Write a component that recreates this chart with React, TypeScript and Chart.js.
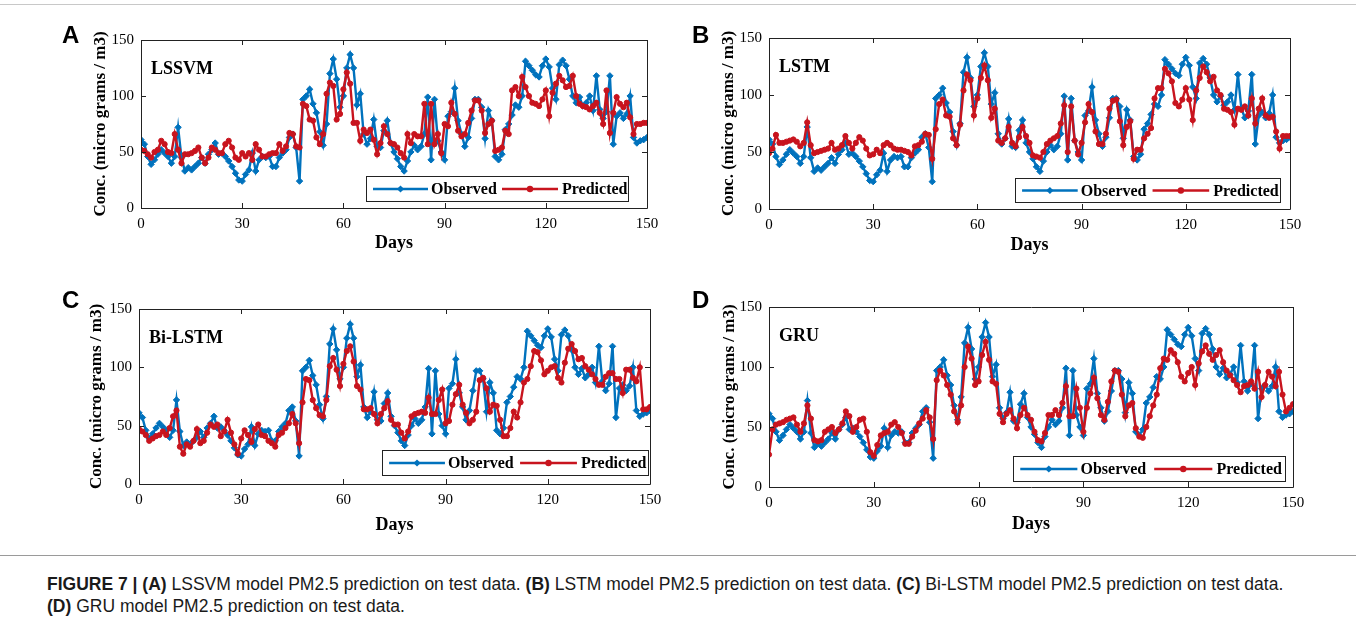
import React, { useEffect, useRef } from "react";
import { Chart, registerables } from "chart.js";

Chart.register(...registerables);

// ---------- data ----------
const xTicks = [0, 30, 60, 90, 120, 150];
const yTicks = [0, 50, 100, 150];

const observed = [
  61, 57, 46, 39, 43, 48, 52, 49, 46, 40,
  46, 72, 45, 33, 36, 34, 37, 40, 45, 40,
  48, 52, 58, 48, 49, 46, 42, 37, 31, 25,
  24, 30, 34, 49, 33, 43, 46, 45, 46, 37,
  37, 45, 49, 52, 63, 66, 54, 24, 97, 100,
  106, 93, 85, 68, 56, 75, 120, 133, 115, 90,
  100, 125, 137, 125, 92, 102, 66, 57, 62, 79,
  55, 54, 69, 78, 58, 50, 44, 37, 33, 42,
  50, 56, 52, 55, 66, 99, 43, 97, 60, 50,
  43, 82, 86, 107, 78, 66, 55, 63, 80, 97,
  97, 90, 62, 87, 78, 46, 43, 48, 70, 75,
  83, 92, 90, 100, 131, 127, 123, 119, 117, 127,
  133, 126, 107, 97, 128, 132, 127, 115, 100, 94,
  99, 91, 94, 100, 87, 118, 88, 80, 86, 118,
  57, 82, 85, 80, 84, 100, 63, 58, 60, 61, 63,
];

const lssvm = [
  52, 51, 48, 45, 50, 52, 60, 57, 50, 49,
  66, 52, 40, 48, 48, 49, 51, 54, 45, 40,
  45, 54, 52, 49, 49, 57, 60, 54, 45, 43,
  49, 46, 49, 43, 57, 52, 46, 46, 48, 49,
  49, 57, 51, 55, 67, 66, 55, 54, 93, 91,
  79, 78, 63, 57, 66, 102, 112, 109, 79, 84,
  106, 121, 111, 76, 76, 60, 70, 67, 70, 61,
  48, 58, 73, 66, 58, 57, 54, 49, 45, 66,
  58, 66, 64, 64, 93, 57, 93, 57, 66, 49,
  75, 73, 94, 84, 69, 64, 66, 76, 87, 96,
  96, 87, 67, 75, 78, 51, 52, 54, 69, 66,
  105, 108, 100, 117, 108, 100, 94, 93, 91, 97,
  105, 82, 103, 111, 118, 114, 108, 109, 118, 100,
  93, 91, 90, 88, 91, 94, 85, 75, 105, 67,
  85, 99, 93, 90, 94, 81, 66, 75, 75, 76, 76,
];

const lstm = [
  49, 53, 65, 58, 58, 59, 60, 61, 59, 55,
  58, 76, 56, 49, 50, 51, 52, 53, 58, 52,
  53, 56, 64, 58, 53, 58, 63, 60, 53, 47,
  48, 52, 49, 56, 58, 56, 53, 52, 52, 51,
  50, 47, 55, 56, 59, 66, 65, 44, 70, 92,
  96, 82, 81, 62, 56, 74, 104, 118, 113, 82,
  97, 115, 126, 113, 80, 88, 60, 58, 62, 72,
  58, 55, 63, 72, 64, 58, 47, 46, 45, 50,
  57, 60, 62, 64, 75, 91, 50, 90, 60, 48,
  58, 76, 92, 85, 68, 57, 57, 66, 88, 95,
  96, 77, 56, 72, 77, 44, 52, 52, 62, 66,
  71, 97, 106, 106, 123, 119, 112, 93, 90, 96,
  106, 96, 78, 104, 115, 125, 120, 112, 116, 104,
  100, 88, 87, 85, 74, 88, 87, 90, 82, 97,
  75, 88, 97, 82, 80, 81, 68, 53, 64, 64, 64,
];

const bilstm = [
  47, 45, 42, 37, 39, 41, 42, 45, 42, 48,
  58, 63, 32, 26, 34, 32, 37, 47, 35, 37,
  44, 51, 49, 51, 41, 45, 55, 44, 34, 26,
  39, 46, 42, 36, 47, 51, 42, 41, 37, 35,
  32, 42, 44, 48, 52, 60, 52, 35, 70, 90,
  89, 72, 65, 59, 58, 72, 101, 108, 98, 84,
  103, 114, 118, 105, 84, 81, 64, 64, 65, 60,
  52, 60, 65, 71, 55, 51, 51, 44, 39, 45,
  58, 60, 61, 62, 61, 74, 60, 60, 72, 81,
  52, 54, 68, 77, 85, 68, 61, 52, 55, 62,
  89, 91, 82, 62, 68, 67, 55, 41, 41, 48,
  62, 57, 70, 87, 90, 101, 114, 113, 106, 94,
  97, 100, 101, 91, 87, 104, 116, 120, 114, 107,
  108, 101, 98, 94, 90, 85, 85, 92, 95, 95,
  90, 90, 78, 98, 98, 91, 88, 100, 64, 64, 66,
];

const gru = [
  27, 48, 52, 53, 54, 56, 57, 58, 52, 46,
  53, 68, 57, 39, 38, 39, 46, 48, 50, 45,
  48, 53, 63, 59, 46, 50, 56, 57, 46, 29,
  26, 35, 43, 45, 46, 52, 54, 50, 45, 36,
  36, 42, 47, 53, 57, 64, 58, 40, 89, 97,
  93, 85, 77, 63, 54, 68, 100, 117, 107, 85,
  88, 110, 121, 106, 88, 86, 61, 54, 61, 64,
  57, 49, 60, 66, 60, 56, 46, 39, 38, 45,
  60, 60, 64, 60, 70, 84, 59, 59, 82, 66,
  46, 66, 78, 91, 74, 60, 56, 71, 88, 97,
  96, 77, 59, 68, 70, 49, 42, 41, 50, 59,
  68, 77, 99, 107, 106, 114, 111, 104, 92, 88,
  95, 100, 85, 103, 113, 118, 111, 106, 110, 114,
  104, 97, 93, 89, 85, 79, 84, 85, 88, 82,
  96, 75, 85, 96, 92, 84, 96, 77, 63, 66, 69,
];

// ---------- style ----------
const BLUE = "#0072BD";
const RED = "#C8141E";
const SERIF = '"Liberation Serif", "Times New Roman", serif';
const SANS = '"Liberation Sans", Arial, sans-serif';

type PanelSpec = {
  letter: string;
  name: string;
  pred: number[];
  L: number; R: number; T: number; B: number;
  yTitleX: number;
  daysY: number;
  letterX: number; letterY: number;
  legend: { x: number; y: number; w: number; h: number };
};

const panels: PanelSpec[] = [
  { letter: "A", name: "LSSVM", pred: lssvm, L: 141, R: 647, T: 40, B: 208, yTitleX: 101, daysY: 243, letterX: 62, letterY: 35, legend: { x: 366, y: 176, w: 262, h: 25 } },
  { letter: "B", name: "LSTM", pred: lstm, L: 769, R: 1290, T: 38, B: 209, yTitleX: 729, daysY: 245, letterX: 692, letterY: 35, legend: { x: 1015, y: 178, w: 265, h: 24 } },
  { letter: "C", name: "Bi-LSTM", pred: bilstm, L: 139, R: 650, T: 309, B: 484, yTitleX: 97, daysY: 525, letterX: 62, letterY: 300, legend: { x: 382, y: 450, w: 266, h: 25 } },
  { letter: "D", name: "GRU", pred: gru, L: 769, R: 1293, T: 307, B: 487, yTitleX: 730, daysY: 524, letterX: 692, letterY: 300, legend: { x: 1013, y: 456, w: 272, h: 25 } },
];

const AXIS_W = 75;
const AXIS_H = 55;
const PAD_T = 20;
const PAD_R = 20;

function drawMarker(ctx: CanvasRenderingContext2D, kind: string, x: number, y: number, color: string) {
  ctx.fillStyle = color;
  ctx.beginPath();
  if (kind === "diamond") {
    const r = 3.6;
    ctx.moveTo(x, y - r);
    ctx.lineTo(x + r, y);
    ctx.lineTo(x, y + r);
    ctx.lineTo(x - r, y);
    ctx.closePath();
  } else {
    ctx.arc(x, y, 3.2, 0, Math.PI * 2);
  }
  ctx.fill();
}

const framePlugin = {
  id: "frame",
  afterDatasetsDraw(chart: any, _args: any, opts: any) {
    const { ctx, chartArea } = chart;
    const { left, right, top, bottom } = chartArea;
    const xs = chart.scales.x;
    const ys = chart.scales.y;
    ctx.save();
    ctx.strokeStyle = "#222";
    ctx.lineWidth = 1;
    ctx.beginPath();
    ctx.rect(Math.round(left) + 0.5, Math.round(top) + 0.5, Math.round(right - left), Math.round(bottom - top));
    const tl = 5;
    xTicks.forEach((v) => {
      const px = Math.round(xs.getPixelForValue(v)) + 0.5;
      ctx.moveTo(px, bottom);
      ctx.lineTo(px, bottom - tl);
      ctx.moveTo(px, top);
      ctx.lineTo(px, top + tl);
    });
    yTicks.forEach((v) => {
      const py = Math.round(ys.getPixelForValue(v)) + 0.5;
      ctx.moveTo(left, py);
      ctx.lineTo(left + tl, py);
      ctx.moveTo(right, py);
      ctx.lineTo(right - tl, py);
    });
    ctx.stroke();

    // in-plot model name
    ctx.fillStyle = "#000";
    ctx.font = `bold 18px ${SERIF}`;
    ctx.textBaseline = "middle";
    ctx.textAlign = "left";
    ctx.fillText(opts.name, left + 10, top + 29);

    // legend
    const lg = opts.legend;
    const lx = lg.x - opts.ox;
    const ly = lg.y - opts.oy;
    const s = lg.w / 262;
    ctx.fillStyle = "#fff";
    ctx.fillRect(lx, ly, lg.w, lg.h);
    ctx.strokeStyle = "#222";
    ctx.lineWidth = 1;
    ctx.strokeRect(Math.round(lx) + 0.5, Math.round(ly) + 0.5, lg.w, lg.h);
    const cy = ly + lg.h / 2 + 0.5;
    const items = [
      { c: BLUE, m: "diamond", x0: 7, x1: 62, t: "Observed", tx: 65 },
      { c: RED, m: "circle", x0: 136, x1: 192, t: "Predicted", tx: 196 },
    ];
    items.forEach((it) => {
      ctx.strokeStyle = it.c;
      ctx.lineWidth = 2.5;
      ctx.beginPath();
      ctx.moveTo(lx + it.x0 * s, cy);
      ctx.lineTo(lx + it.x1 * s, cy);
      ctx.stroke();
      drawMarker(ctx, it.m, lx + ((it.x0 + it.x1) / 2) * s, cy, it.c);
      ctx.fillStyle = "#000";
      ctx.font = `bold 16px ${SERIF}`;
      ctx.textBaseline = "middle";
      ctx.fillText(it.t, lx + it.tx * s, cy + 1);
    });
    ctx.restore();
  },
};

function Panel({ p }: { p: PanelSpec }) {
  const ref = useRef<HTMLCanvasElement | null>(null);
  const ox = p.L - AXIS_W;
  const oy = p.T - PAD_T;
  const w = p.R - p.L + AXIS_W + PAD_R;
  const h = p.B - p.T + PAD_T + AXIS_H;

  useEffect(() => {
    if (!ref.current) return;
    const yTitleLine = 17 * 1.2;
    const yPadTop = p.yTitleX - ox - yTitleLine / 2;
    const xTitleLine = 18 * 1.2;
    const xPadBottom = p.B + AXIS_H - xTitleLine / 2 - p.daysY;
    const chart = new Chart(ref.current, {
      type: "line",
      data: {
        datasets: [
          {
            label: "Predicted",
            data: p.pred.map((v, i) => ({ x: i, y: v })),
            borderColor: RED,
            backgroundColor: RED,
            pointBackgroundColor: RED,
            pointBorderColor: RED,
            pointStyle: "circle",
            pointRadius: 2.6,
            pointBorderWidth: 1,
            borderWidth: 2.4,
            tension: 0,
            order: 0,
          },
          {
            label: "Observed",
            data: observed.map((v, i) => ({ x: i, y: v })),
            borderColor: BLUE,
            backgroundColor: BLUE,
            pointBackgroundColor: BLUE,
            pointBorderColor: BLUE,
            pointStyle: "rectRot",
            pointRadius: 3.2,
            pointBorderWidth: 1,
            borderWidth: 2.4,
            tension: 0,
            order: 1,
          },
        ],
      },
      options: {
        animation: false,
        responsive: false,
        maintainAspectRatio: false,
        events: [],
        layout: { padding: { top: PAD_T, right: PAD_R, left: 0, bottom: 0 } },
        plugins: {
          legend: { display: false },
          tooltip: { enabled: false },
          frame: { name: p.name, legend: p.legend, ox, oy },
        } as any,
        scales: {
          x: {
            type: "linear",
            min: 0,
            max: 150,
            afterBuildTicks: (s: any) => {
              s.ticks = xTicks.map((v) => ({ value: v }));
            },
            grid: { display: false, drawTicks: false },
            border: { display: false },
            ticks: { color: "#000", font: { family: SERIF, size: 15 }, padding: 7, maxRotation: 0, autoSkip: false },
            title: {
              display: true,
              text: "Days",
              color: "#000",
              font: { family: SERIF, size: 18, weight: "bold" },
              padding: { top: 0, bottom: xPadBottom },
            },
            afterFit: (s: any) => {
              s.height = AXIS_H;
            },
          },
          y: {
            type: "linear",
            min: 0,
            max: 150,
            afterBuildTicks: (s: any) => {
              s.ticks = yTicks.map((v) => ({ value: v }));
            },
            grid: { display: false, drawTicks: false },
            border: { display: false },
            ticks: { color: "#000", font: { family: SERIF, size: 15 }, padding: 7, autoSkip: false },
            title: {
              display: true,
              text: "Conc. (micro grams / m3)",
              color: "#000",
              font: { family: SERIF, size: 17, weight: "bold" },
              padding: { top: yPadTop, bottom: 0 },
            },
            afterFit: (s: any) => {
              s.width = AXIS_W;
            },
          },
        },
      } as any,
      plugins: [framePlugin],
    });
    return () => chart.destroy();
  }, []);

  return (
    <>
      <canvas
        ref={ref}
        width={w}
        height={h}
        style={{ position: "absolute", left: ox, top: oy, width: w, height: h }}
      />
      <div
        style={{
          position: "absolute",
          left: p.letterX,
          top: p.letterY - 14,
          height: 28,
          lineHeight: "28px",
          fontFamily: SANS,
          fontWeight: "bold",
          fontSize: 24,
          color: "#000",
        }}
      >
        {p.letter}
      </div>
    </>
  );
}

export default function App() {
  return (
    <div
      style={{
        position: "absolute",
        left: 0,
        top: 0,
        width: 1356,
        height: 627,
        background: "#fff",
        overflow: "hidden",
      }}
    >
      <div style={{ position: "absolute", left: 0, top: 4, width: 1356, height: 1, background: "#c8c8c8" }} />
      {panels.map((p) => (
        <Panel key={p.letter} p={p} />
      ))}
      <div style={{ position: "absolute", left: 0, top: 555, width: 1356, height: 1, background: "#9a9a9a" }} />
      <div
        style={{
          position: "absolute",
          left: 47,
          top: 573,
          fontFamily: SANS,
          fontSize: 17.5,
          lineHeight: "22px",
          color: "#1a1a1a",
          whiteSpace: "nowrap",
        }}
      >
        <b>FIGURE 7 | (A)</b> LSSVM model PM2.5 prediction on test data. <b>(B)</b> LSTM model PM2.5 prediction on test
        data. <b>(C)</b> Bi-LSTM model PM2.5 prediction on test data.
        <br />
        <b>(D)</b> GRU model PM2.5 prediction on test data.
      </div>
    </div>
  );
}
